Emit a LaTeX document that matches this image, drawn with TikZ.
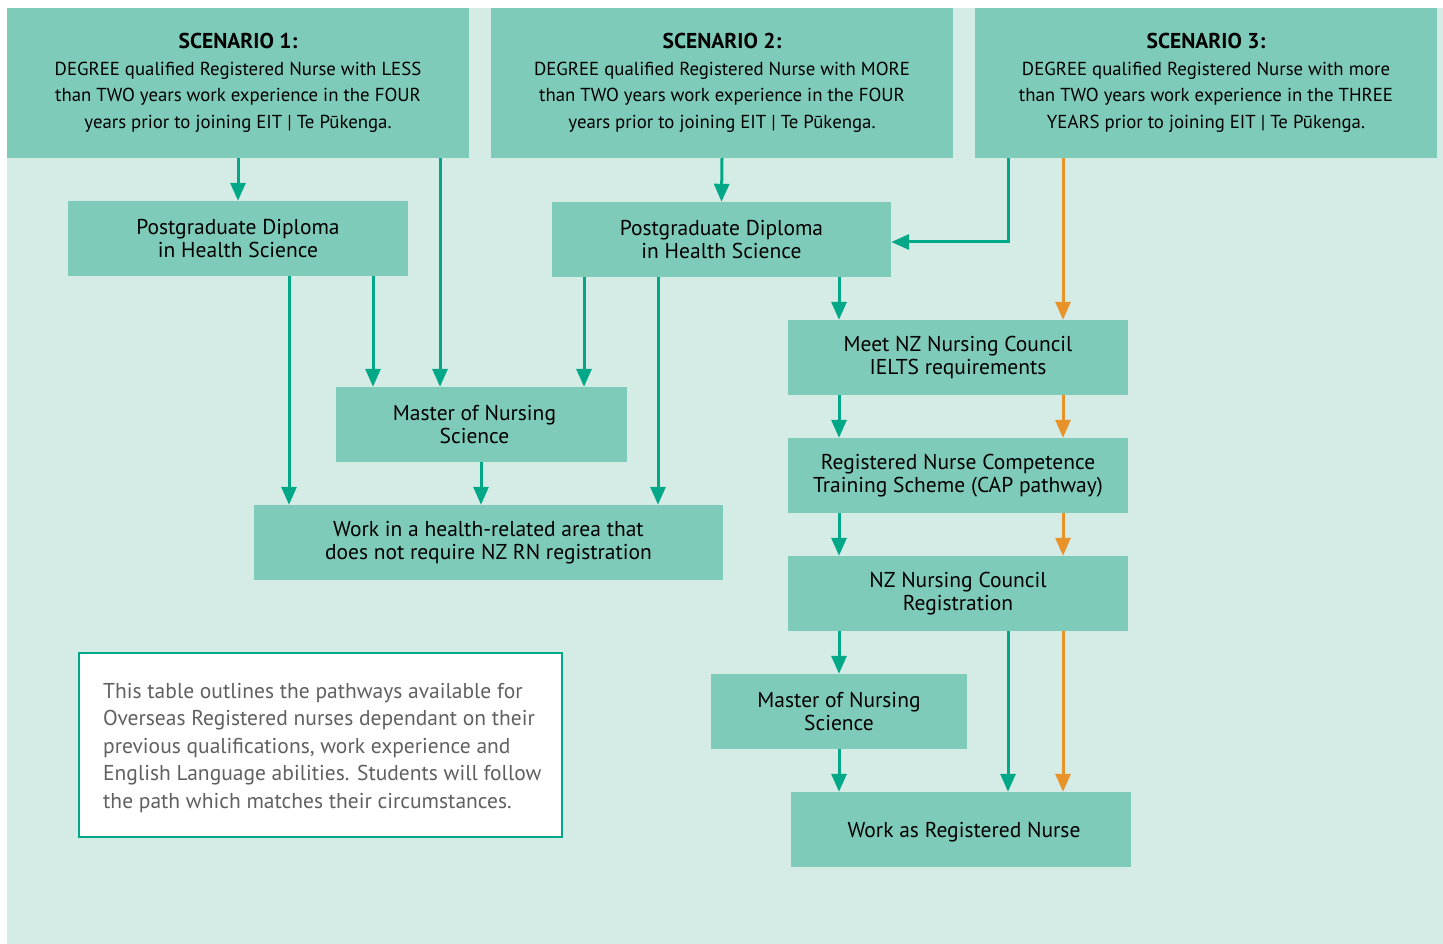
\documentclass[tikz,border=0pt]{standalone}
\usepackage{fontspec}
\setmainfont{PT Sans}
\usetikzlibrary{arrows.meta}
\definecolor{bgc}{HTML}{D5ECE6}
\definecolor{boxc}{HTML}{7ECBBA}
\definecolor{grn}{HTML}{00A887}
\definecolor{org}{HTML}{E8922A}
\definecolor{notec}{HTML}{606060}
\tikzset{
  box/.style={fill=boxc, draw=none, inner sep=0pt, align=center, text=black,
    minimum width=340pt, minimum height=75pt, font=\fontsize{21.5}{23}\selectfont},
  scen/.style={fill=boxc, draw=none, inner sep=0pt, align=center, text=black,
    minimum width=462pt, minimum height=150pt, font=\fontsize{18.8}{26.5}\selectfont},
  ga/.style={draw=grn, line width=3pt, -{Triangle[width=15pt,length=18pt]}},
  oa/.style={draw=org, line width=3pt, -{Triangle[width=15pt,length=18pt]}},
}
\newcommand{\sctitle}[1]{{\fontsize{21.5}{26.5}\selectfont\bfseries #1}}
\begin{document}
\begin{tikzpicture}[x=1pt,y=-1pt]
\useasboundingbox (0,0) rectangle (1443,944);
\fill[bgc] (7,8) rectangle (1443,944);
% scenarios
\node[scen] (s1) at (238,83) {\sctitle{SCENARIO 1:}\\DEGREE qualified Registered Nurse with LESS\\than TWO years work experience in the FOUR\\years prior to joining EIT | Te Pūkenga.};
\node[scen] (s2) at (722,83) {\sctitle{SCENARIO 2:}\\DEGREE qualified Registered Nurse with MORE\\than TWO years work experience in the FOUR\\years prior to joining EIT | Te Pūkenga.};
\node[scen, minimum width=462pt] (s3) at (1206,83) {\sctitle{SCENARIO 3:}\\DEGREE qualified Registered Nurse with more\\than TWO years work experience in the THREE\\YEARS prior to joining EIT | Te Pūkenga.};
% boxes
\node[box] (pg1) at (238,238.5) {Postgraduate Diploma\\in Health Science};
\node[box, minimum width=339pt] (pg2) at (721.5,239.5) {Postgraduate Diploma\\in Health Science};
\node[box, minimum width=291pt] (mns1) at (481.5,424.5) {Master of Nursing\hspace*{14pt}\\Science\hspace*{14pt}};
\node[box, minimum width=469pt] (wh) at (488.5,542.5) {Work in a health-related area that\\does not require NZ RN registration};
\node[box] (meet) at (958,357.5) {Meet NZ Nursing Council\\IELTS requirements};
\node[box] (rnc) at (958,475.5) {Registered Nurse Competence\\Training Scheme (CAP pathway)};
\node[box] (nzr) at (958,593.5) {NZ Nursing Council\\Registration};
\node[box, minimum width=256pt] (mns2) at (839,711.5) {Master of Nursing\\Science};
\node[box, text height=21pt] (wrn) at (961,829.5) {\hspace*{6pt}Work as Registered Nurse};
% note
\node[draw=grn, line width=2.5pt, fill=white, minimum width=483pt, minimum height=184pt, inner sep=0pt] (note) at (320.5,745) {};
\node[anchor=north west, inner sep=0pt, align=left, text=notec, font=\fontsize{21.5}{27.5}\selectfont] (notetxt) at (103,683) {This table outlines the pathways available for\\Overseas Registered nurses dependant on their\\previous qualifications, work experience and\\English Language abilities. Students will follow\\the path which matches their circumstances.};
% columns
\coordinate (x289) at (289,0);
\coordinate (x373) at (373,0);
\coordinate (x440) at (440,0);
\coordinate (x481) at (481,0);
\coordinate (x584) at (584,0);
\coordinate (x658) at (658,0);
\coordinate (x839) at (839,0);
\coordinate (x1008) at (1008,0);
\coordinate (x1063) at (1063,0);
\coordinate (y242) at (0,242);
% arrows scenario 1
\draw[ga] (s1.south) -- (pg1.north);
\draw[ga] (s1.south -| x440) -- (mns1.north -| x440);
\draw[ga] (pg1.south -| x373) -- (mns1.north -| x373);
\draw[ga] (pg1.south -| x289) -- (wh.north -| x289);
\draw[ga] (mns1.south -| x481) -- (wh.north -| x481);
% scenario 2
\draw[ga] (s2.south) -- (pg2.north);
\draw[ga] (pg2.south -| x584) -- (mns1.north -| x584);
\draw[ga] (pg2.south -| x658) -- (wh.north -| x658);
\draw[ga] (pg2.south -| x839) -- (meet.north -| x839);
\draw[ga] (meet.south -| x839) -- (rnc.north -| x839);
\draw[ga] (rnc.south -| x839) -- (nzr.north -| x839);
\draw[ga] (nzr.south -| x839) -- (mns2.north -| x839);
\draw[ga] (mns2.south -| x839) -- (wrn.north -| x839);
\draw[ga] (nzr.south -| x1008) -- (wrn.north -| x1008);
% scenario 3
\draw[ga] (s3.south -| x1008) |- (pg2.east |- y242);
\draw[oa] (s3.south -| x1063) -- (meet.north -| x1063);
\draw[oa] (meet.south -| x1063) -- (rnc.north -| x1063);
\draw[oa] (rnc.south -| x1063) -- (nzr.north -| x1063);
\draw[oa] (nzr.south -| x1063) -- (wrn.north -| x1063);
\end{tikzpicture}
\end{document}
